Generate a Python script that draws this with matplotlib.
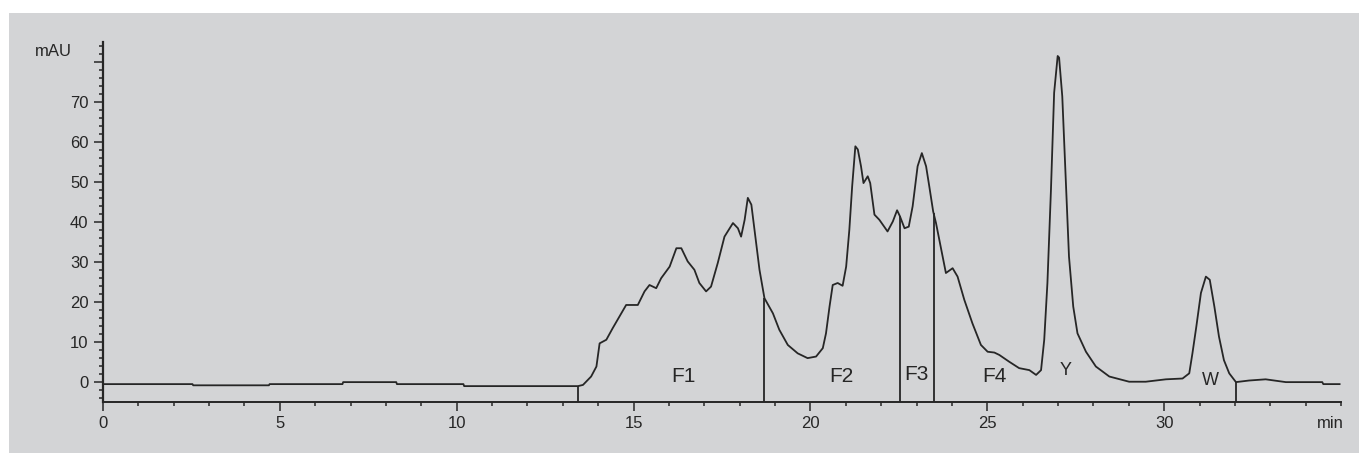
import numpy as np
import matplotlib
matplotlib.use("Agg")
import matplotlib.pyplot as plt
from matplotlib.ticker import MultipleLocator
from matplotlib.patches import Rectangle

# chromatogram: time (min) and absorbance (mAU)
t = [0.0, 2.53, 2.55, 4.69, 4.71, 6.77, 6.79, 8.29, 8.31, 10.19, 10.21, 13.43,
     13.57, 13.80, 13.95, 14.04, 14.23, 14.41, 14.60, 14.79, 15.12, 15.31, 15.45,
     15.64, 15.78, 16.02, 16.21, 16.35, 16.53, 16.72, 16.86, 17.05, 17.19, 17.38,
     17.57, 17.81, 17.95, 18.04, 18.14, 18.23, 18.33, 18.42, 18.56, 18.70, 18.94,
     19.12, 19.36, 19.64, 19.92, 20.16, 20.35, 20.44, 20.54, 20.63, 20.77, 20.91,
     21.01, 21.10, 21.18, 21.27, 21.34, 21.43, 21.50, 21.62, 21.69, 21.81, 21.95,
     22.18, 22.33, 22.45, 22.53, 22.66, 22.78, 22.89, 23.03, 23.15, 23.27, 23.36,
     23.47, 23.55, 23.69, 23.83, 24.02, 24.16, 24.35, 24.58, 24.82, 25.01, 25.20,
     25.34, 25.62, 25.90, 26.19, 26.38, 26.52, 26.61, 26.70, 26.80, 26.89, 26.99,
     27.03, 27.12, 27.22, 27.31, 27.43, 27.55, 27.79, 28.07, 28.45, 29.01, 29.48,
     30.05, 30.52, 30.71, 30.80, 30.91, 31.04, 31.18, 31.29, 31.42, 31.55, 31.69,
     31.84, 32.03, 32.40, 32.87, 33.44, 34.47, 34.50, 34.96]
mau = [-0.6, -0.6, -0.9, -0.9, -0.6, -0.6, -0.1, -0.1, -0.6, -0.6, -1.1, -1.1,
       -0.8, 1.3, 3.8, 9.6, 10.5, 13.4, 16.3, 19.2, 19.2, 22.6, 24.2,
       23.4, 25.9, 28.8, 33.4, 33.4, 30.1, 28.0, 24.7, 22.6, 23.8, 29.7,
       36.3, 39.7, 38.4, 36.3, 40.5, 46.0, 44.3, 38.0, 28.0, 20.9, 17.1,
       13.0, 9.2, 7.1, 5.9, 6.3, 8.4, 12.1, 18.8, 24.2, 24.7, 24.0,
       28.8, 38.0, 48.9, 58.9, 58.1, 53.9, 49.7, 51.4, 49.7, 41.8, 40.5,
       37.6, 40.1, 42.9, 41.4, 38.4, 38.8, 43.9, 53.9, 57.2, 53.9, 48.9,
       42.6, 39.7, 33.4, 27.2, 28.4, 26.3, 20.5, 14.6, 9.2, 7.5, 7.3,
       6.7, 5.0, 3.4, 2.9, 1.7, 2.9, 10.5, 24.7, 48.0, 72.3, 81.5,
       81.1, 71.4, 50.6, 31.3, 18.8, 12.1, 7.5, 3.8, 1.3, 0.0, 0.0,
       0.6, 0.8, 2.1, 7.1, 13.8, 22.2, 26.3, 25.5, 18.8, 11.3, 5.4,
       2.1, -0.1, 0.3, 0.6, -0.1, -0.1, -0.6, -0.6]

# fraction cut times and labels
cuts = [13.43, 18.70, 22.52, 23.48, 32.03]
frac_names = ["F1", "F2", "F3", "F4", "Y", "W"]
frac_x = [16.4, 20.87, 23.0, 25.2, 27.22, 31.3]
frac_y = [1.2, 1.2, 1.8, 1.2, 2.9, 0.4]

bg = "#d3d4d6"
ink = "#262626"
plt.rcParams['font.family'] = ['Liberation Sans', 'DejaVu Sans']

fig = plt.figure(figsize=(13.59, 4.53), dpi=100)
fig.patch.set_facecolor("white")
fig.patches.append(Rectangle((9 / 1359, 0), 1, 1 - 13 / 453, transform=fig.transFigure,
                             facecolor=bg, edgecolor="none", zorder=-10))
ax = fig.add_axes([103 / 1359, 1 - 401.7 / 453, (1341 - 103) / 1359, (401.7 - 42) / 453])
ax.set_facecolor("none")
ax.set_zorder(5)

ax.plot(t, mau, color=ink, lw=1.3)
ymin = -5
cut_h = np.interp(cuts, t, mau)
ax.vlines(cuts, ymin, cut_h, color=ink, lw=1.3)

for name, x, y in zip(frac_names, frac_x, frac_y):
    fs = 15 if name.startswith("F") else 13
    ax.text(x, y, name, ha="center", va="center", fontsize=fs, color=ink)

ax.set_xlim(0, 35)
ax.set_ylim(ymin, 85)
for s in ["top", "right"]:
    ax.spines[s].set_visible(False)
ax.spines["left"].set_linewidth(1.6)
ax.spines["bottom"].set_linewidth(1.4)
ax.spines["left"].set_color(ink)
ax.spines["bottom"].set_color(ink)

ax.xaxis.set_minor_locator(MultipleLocator(1))
ax.yaxis.set_minor_locator(MultipleLocator(2))
ax.set_xticks([0, 5, 10, 15, 20, 25, 30])
ax.set_yticks([0, 10, 20, 30, 40, 50, 60, 70, 80])
ax.set_yticklabels(["0", "10", "20", "30", "40", "50", "60", "70", ""])
ax.tick_params(which="major", length=6.5, width=1.1, color=ink, labelsize=12, labelcolor=ink, pad=4)
ax.tick_params(which="minor", length=3, width=1.1, color=ink)

fig.text(35 / 1359, 1 - 52 / 453, "mAU", fontsize=12, color=ink, va="center", ha="left")
fig.text(1344 / 1359, 1 - 423 / 453, "min", fontsize=12, color=ink, va="center", ha="right")

fig.savefig("out.png", dpi=100, facecolor=fig.get_facecolor())
